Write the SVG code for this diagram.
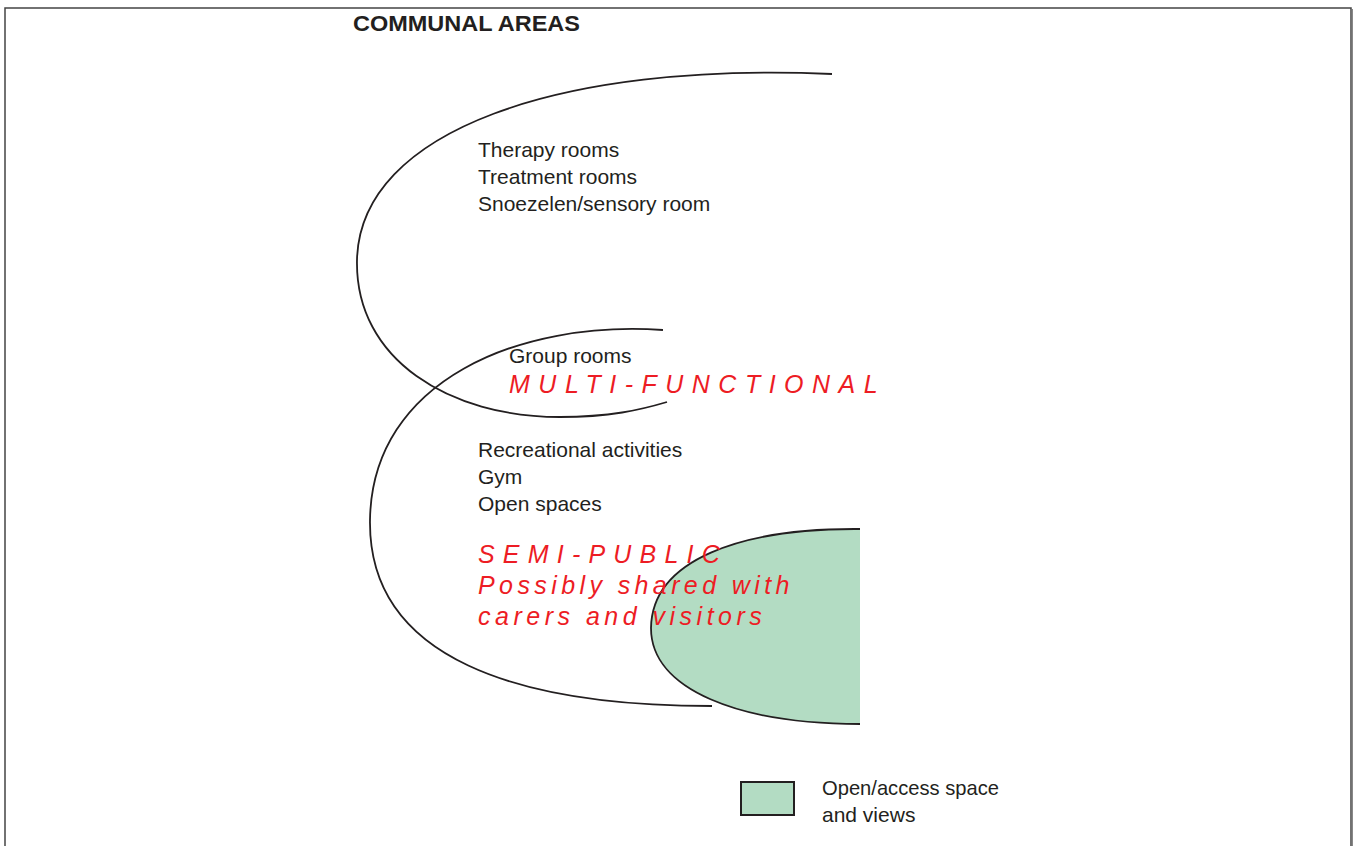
<svg xmlns="http://www.w3.org/2000/svg" width="1357" height="846" viewBox="0 0 1357 846">
<style>
.curve{fill:none;stroke:#231f20;stroke-width:1.8}
.txt{font-family:"Liberation Sans",Arial,sans-serif;font-size:21px;fill:#231f20}
.red{font-family:"Liberation Sans",Arial,sans-serif;font-size:25px;font-style:italic;fill:#ed1c24}
.title{font-family:"Liberation Sans",Arial,sans-serif;font-size:22px;font-weight:bold;fill:#231f20}
.open{fill:#b3dcc3}
</style>
<rect x="0" y="0" width="1357" height="846" fill="#ffffff"/>
<rect id="frame" x="5" y="8" width="1346" height="850" fill="none" stroke="#444" stroke-width="1.5"/>
<line x1="1352.5" y1="9" x2="1352.5" y2="846" stroke="#888" stroke-width="1"/>
<text id="title" class="title" x="353" y="31" textLength="227" lengthAdjust="spacingAndGlyphs">COMMUNAL AREAS</text>
<g id="connectors">
<path id="upper-zone" class="curve" d="M832,74 C560,62 360,130 357,260 C355,360 450,417 560,417 C610,417 640,410 667,402"/>
<path id="lower-zone" class="curve" d="M663,330 C520,320 372,380 370,520 C368,660 520,706 712,706"/>
</g>
<g id="open-space">
<path class="open" d="M860,529 C740,528 652,560 651,628 C651,690 740,724 860,724 Z"/>
<path class="curve" d="M860,529 C740,528 652,560 651,628 C651,690 740,724 860,724"/>
</g>
<g id="therapy-node">
<text class="txt" x="478" y="157">Therapy rooms</text>
<text class="txt" x="478" y="184">Treatment rooms</text>
<text class="txt" x="478" y="211">Snoezelen/sensory room</text>
</g>
<g id="group-node">
<text class="txt" x="509" y="363">Group rooms</text>
<text class="red" x="509" y="393" letter-spacing="8.5">MULTI-FUNCTIONAL</text>
</g>
<g id="recreation-node">
<text class="txt" x="478" y="457">Recreational activities</text>
<text class="txt" x="478" y="484">Gym</text>
<text class="txt" x="478" y="511">Open spaces</text>
<text class="red" x="478" y="563" letter-spacing="8.2">SEMI-PUBLIC</text>
<text class="red" x="478" y="594" letter-spacing="4.4">Possibly shared with</text>
<text class="red" x="478" y="625" letter-spacing="4.5">carers and visitors</text>
</g>
<g id="legend">
<rect x="741" y="782" width="53" height="33" class="open" stroke="#231f20" stroke-width="2"/>
<text class="txt" x="822" y="795" textLength="177" lengthAdjust="spacingAndGlyphs">Open/access space</text>
<text class="txt" x="822" y="822">and views</text>
</g>
</svg>
